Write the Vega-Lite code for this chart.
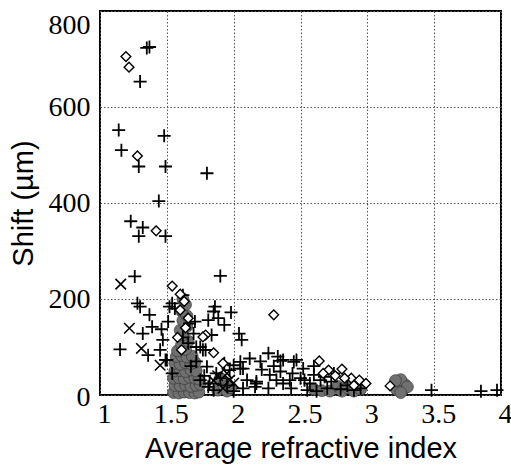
{
  "$schema": "https://vega.github.io/schema/vega-lite/v6.json",
  "width": 401,
  "height": 384,
  "autosize": "none",
  "padding": {"left": 100, "top": 11, "right": 10, "bottom": 72},
  "background": "white",
  "config": {
    "view": {"stroke": "black", "strokeWidth": 2},
    "axis": {
      "grid": true, "gridColor": "#555", "gridDash": [1.5, 2], "gridWidth": 1,
      "domain": false, "ticks": false,
      "labelFont": "Times New Roman, Liberation Serif, serif", "labelFontSize": 28, "labelColor": "black",
      "titleFont": "Liberation Sans", "titleFontSize": 29, "titleFontWeight": "normal", "titleColor": "black"
    }
  },
  "datasets": {
    "pts": [
      {"t":"circle","x":1.55,"y":5},{"t":"circle","x":1.59,"y":4},{"t":"circle","x":1.63,"y":6},{"t":"circle","x":1.67,"y":5},{"t":"circle","x":1.71,"y":4},{"t":"circle","x":1.74,"y":6},
      {"t":"circle","x":1.56,"y":20},{"t":"circle","x":1.60,"y":19},{"t":"circle","x":1.64,"y":21},{"t":"circle","x":1.68,"y":18},{"t":"circle","x":1.72,"y":20},{"t":"circle","x":1.75,"y":22},
      {"t":"circle","x":1.55,"y":35},{"t":"circle","x":1.59,"y":36},{"t":"circle","x":1.63,"y":34},{"t":"circle","x":1.67,"y":37},{"t":"circle","x":1.71,"y":35},{"t":"circle","x":1.74,"y":33},
      {"t":"circle","x":1.56,"y":50},{"t":"circle","x":1.60,"y":51},{"t":"circle","x":1.64,"y":49},{"t":"circle","x":1.68,"y":52},{"t":"circle","x":1.72,"y":50},
      {"t":"circle","x":1.56,"y":66},{"t":"circle","x":1.60,"y":64},{"t":"circle","x":1.64,"y":67},{"t":"circle","x":1.68,"y":65},{"t":"circle","x":1.71,"y":68},
      {"t":"circle","x":1.57,"y":80},{"t":"circle","x":1.61,"y":82},{"t":"circle","x":1.65,"y":79},{"t":"circle","x":1.69,"y":81},
      {"t":"circle","x":1.58,"y":92},{"t":"circle","x":1.64,"y":95},{"t":"circle","x":1.61,"y":105},{"t":"circle","x":1.66,"y":112},
      {"t":"circle","x":1.62,"y":125},{"t":"circle","x":1.60,"y":135},{"t":"circle","x":1.65,"y":143},{"t":"circle","x":1.62,"y":155},
      {"t":"circle","x":1.65,"y":165},{"t":"circle","x":1.61,"y":175},{"t":"circle","x":1.64,"y":188},{"t":"circle","x":1.62,"y":200},
      {"t":"circle","x":1.88,"y":10},{"t":"circle","x":1.92,"y":22},{"t":"circle","x":1.95,"y":8},{"t":"circle","x":1.98,"y":15},{"t":"circle","x":1.90,"y":35},
      {"t":"circle","x":2.60,"y":12},{"t":"circle","x":2.66,"y":9},{"t":"circle","x":2.72,"y":8},{"t":"circle","x":2.78,"y":18},{"t":"circle","x":2.81,"y":8},
      {"t":"circle","x":2.85,"y":15},{"t":"circle","x":2.88,"y":24},{"t":"circle","x":2.90,"y":8},{"t":"circle","x":2.95,"y":12},
      {"t":"circle","x":3.20,"y":20},{"t":"circle","x":3.24,"y":26},{"t":"circle","x":3.28,"y":22},{"t":"circle","x":3.22,"y":11},{"t":"circle","x":3.27,"y":12},
      {"t":"circle","x":3.25,"y":32},{"t":"circle","x":3.30,"y":17},{"t":"circle","x":3.21,"y":30},{"t":"circle","x":3.25,"y":5},

      {"t":"plus","x":1.35,"y":723},{"t":"plus","x":1.37,"y":725},{"t":"plus","x":1.30,"y":653},{"t":"plus","x":1.14,"y":552},{"t":"plus","x":1.48,"y":540},
      {"t":"plus","x":1.16,"y":510},{"t":"plus","x":1.29,"y":476},{"t":"plus","x":1.49,"y":476},{"t":"plus","x":1.80,"y":462},{"t":"plus","x":1.44,"y":404},
      {"t":"plus","x":1.23,"y":362},{"t":"plus","x":1.32,"y":349},{"t":"plus","x":1.29,"y":331},{"t":"plus","x":1.49,"y":331},{"t":"plus","x":1.26,"y":247},
      {"t":"plus","x":1.90,"y":248},{"t":"plus","x":1.62,"y":208},{"t":"plus","x":1.28,"y":191},{"t":"plus","x":1.30,"y":184},{"t":"plus","x":1.37,"y":167},
      {"t":"plus","x":1.54,"y":191},{"t":"plus","x":1.56,"y":180},{"t":"plus","x":1.39,"y":142},{"t":"plus","x":1.46,"y":137},{"t":"plus","x":1.32,"y":128},
      {"t":"plus","x":1.51,"y":153},{"t":"plus","x":1.15,"y":95},{"t":"plus","x":1.36,"y":83},{"t":"plus","x":1.45,"y":94},{"t":"plus","x":1.47,"y":115},
      {"t":"plus","x":1.49,"y":73},{"t":"plus","x":1.54,"y":45},{"t":"plus","x":1.81,"y":156},{"t":"plus","x":1.81,"y":17},{"t":"plus","x":1.75,"y":100},
      {"t":"plus","x":1.71,"y":153},{"t":"plus","x":1.52,"y":184},{"t":"plus","x":1.67,"y":149},{"t":"plus","x":1.70,"y":128},{"t":"plus","x":1.72,"y":100},
      {"t":"plus","x":1.79,"y":94},{"t":"plus","x":1.86,"y":184},{"t":"plus","x":1.85,"y":174},{"t":"plus","x":1.98,"y":172},{"t":"plus","x":1.885,"y":160},
      {"t":"plus","x":1.93,"y":146},{"t":"plus","x":2.04,"y":128},{"t":"plus","x":2.06,"y":115},{"t":"plus","x":1.835,"y":125},{"t":"plus","x":1.77,"y":94},
      {"t":"plus","x":2.26,"y":87},{"t":"plus","x":2.33,"y":80},{"t":"plus","x":2.35,"y":71},{"t":"plus","x":2.47,"y":73},{"t":"plus","x":2.12,"y":76},
      {"t":"plus","x":2.05,"y":69},{"t":"plus","x":2.07,"y":55},{"t":"plus","x":2.00,"y":62},{"t":"plus","x":1.93,"y":66},{"t":"plus","x":2.21,"y":53},
      {"t":"plus","x":2.27,"y":42},{"t":"plus","x":2.35,"y":49},{"t":"plus","x":2.17,"y":28},{"t":"plus","x":2.16,"y":17},{"t":"plus","x":2.26,"y":14},
      {"t":"plus","x":2.32,"y":31},{"t":"plus","x":2.42,"y":31},{"t":"plus","x":2.50,"y":35},{"t":"plus","x":2.52,"y":55},{"t":"plus","x":2.37,"y":24},
      {"t":"plus","x":2.43,"y":14},{"t":"plus","x":1.50,"y":73},{"t":"plus","x":1.80,"y":59},{"t":"plus","x":1.75,"y":31},{"t":"plus","x":1.82,"y":24},
      {"t":"plus","x":1.87,"y":45},{"t":"plus","x":1.97,"y":52},{"t":"plus","x":2.05,"y":55},{"t":"plus","x":2.10,"y":31},{"t":"plus","x":2.17,"y":24},
      {"t":"plus","x":2.07,"y":14},{"t":"plus","x":2.53,"y":31},{"t":"plus","x":2.60,"y":42},{"t":"plus","x":2.57,"y":24},{"t":"plus","x":2.65,"y":31},
      {"t":"plus","x":2.73,"y":28},{"t":"plus","x":2.70,"y":14},{"t":"plus","x":2.45,"y":69},{"t":"plus","x":2.37,"y":73},
      {"t":"plus","x":3.48,"y":10},{"t":"plus","x":3.85,"y":8},{"t":"plus","x":3.97,"y":10},
      {"t":"plus","x":1.62,"y":120},{"t":"plus","x":1.66,"y":108},{"t":"plus","x":1.72,"y":70},{"t":"plus","x":1.68,"y":60},{"t":"plus","x":1.78,"y":40},
      {"t":"plus","x":1.85,"y":10},{"t":"plus","x":1.90,"y":35},{"t":"plus","x":1.95,"y":20},{"t":"plus","x":2.00,"y":8},{"t":"plus","x":2.55,"y":10},
      {"t":"plus","x":2.62,"y":8},{"t":"plus","x":2.80,"y":12},{"t":"plus","x":2.85,"y":20},{"t":"plus","x":2.90,"y":10},{"t":"plus","x":2.95,"y":14},
      {"t":"plus","x":2.60,"y":60},{"t":"plus","x":2.44,"y":45},{"t":"plus","x":2.30,"y":60},{"t":"plus","x":2.20,"y":70},{"t":"plus","x":2.75,"y":45},
      {"t":"plus","x":2.68,"y":38},

      {"t":"diamond","x":1.194,"y":705},{"t":"diamond","x":1.217,"y":683},{"t":"diamond","x":1.28,"y":498},{"t":"diamond","x":1.42,"y":342},
      {"t":"diamond","x":1.54,"y":227},{"t":"diamond","x":1.60,"y":210},{"t":"diamond","x":1.79,"y":125},{"t":"diamond","x":1.66,"y":160},
      {"t":"diamond","x":1.61,"y":94},{"t":"diamond","x":1.60,"y":177},{"t":"diamond","x":2.30,"y":167},{"t":"diamond","x":1.77,"y":121},
      {"t":"diamond","x":1.85,"y":88},{"t":"diamond","x":1.92,"y":66},{"t":"diamond","x":2.64,"y":71},{"t":"diamond","x":2.81,"y":54},
      {"t":"diamond","x":2.71,"y":52},{"t":"diamond","x":2.67,"y":45},{"t":"diamond","x":2.88,"y":35},{"t":"diamond","x":2.94,"y":31},
      {"t":"diamond","x":2.99,"y":24},{"t":"diamond","x":2.83,"y":35},{"t":"diamond","x":3.17,"y":19},{"t":"diamond","x":1.63,"y":195},
      {"t":"diamond","x":1.64,"y":140},{"t":"diamond","x":1.58,"y":120},{"t":"diamond","x":2.76,"y":40},{"t":"diamond","x":2.90,"y":20},

      {"t":"x","x":1.155,"y":231},{"t":"x","x":1.22,"y":139},{"t":"x","x":1.31,"y":97},{"t":"x","x":1.45,"y":62},{"t":"x","x":1.92,"y":14},
      {"t":"x","x":1.97,"y":31},{"t":"x","x":1.88,"y":40},{"t":"x","x":1.95,"y":45},{"t":"x","x":2.00,"y":25},{"t":"x","x":1.85,"y":30}
    ]
  },
  "data": {"name": "pts"},
  "encoding": {
    "x": {"field": "x", "type": "quantitative",
      "scale": {"domain": [1, 4], "nice": false, "zero": false},
      "axis": {"values": [1, 1.5, 2, 2.5, 3, 3.5, 4], "format": "~g", "labelPadding": 5, "labelOffset": 4, "titlePadding": 6, "title": "Average refractive index", "labelFlush": false}},
    "y": {"field": "y", "type": "quantitative",
      "scale": {"domain": [0, 800], "nice": false},
      "axis": {"values": [0, 200, 400, 600, 800], "labelPadding": 10, "titlePadding": 10, "title": "Shift (µm)", "labelFlush": false,
        "labelOffset": {"condition": {"test": "datum.value == 0", "value": 2}, "value": 0},
        "labelBaseline": {"condition": {"test": "datum.value == 800", "value": "top"}, "value": "middle"}}}
  },
  "layer": [
    {"transform": [{"filter": "datum.t == 'circle'"}],
     "mark": {"type": "point", "shape": "circle", "filled": true, "fill": "#707070", "stroke": "#3a3a3a", "strokeWidth": 0.7, "size": 140, "opacity": 1}},
    {"transform": [{"filter": "datum.t == 'plus'"}],
     "mark": {"type": "point", "shape": "M -1 0 L 1 0 M 0 -1 L 0 1", "filled": false, "stroke": "black", "strokeWidth": 1.8, "size": 170, "opacity": 1}},
    {"transform": [{"filter": "datum.t == 'x'"}],
     "mark": {"type": "point", "shape": "M -1 -1 L 1 1 M -1 1 L 1 -1", "filled": false, "stroke": "black", "strokeWidth": 1.6, "size": 110, "opacity": 1}},
    {"transform": [{"filter": "datum.t == 'diamond'"}],
     "mark": {"type": "point", "shape": "diamond", "filled": true, "fill": "white", "stroke": "black", "strokeWidth": 1.4, "size": 95, "opacity": 1}}
  ]
}
